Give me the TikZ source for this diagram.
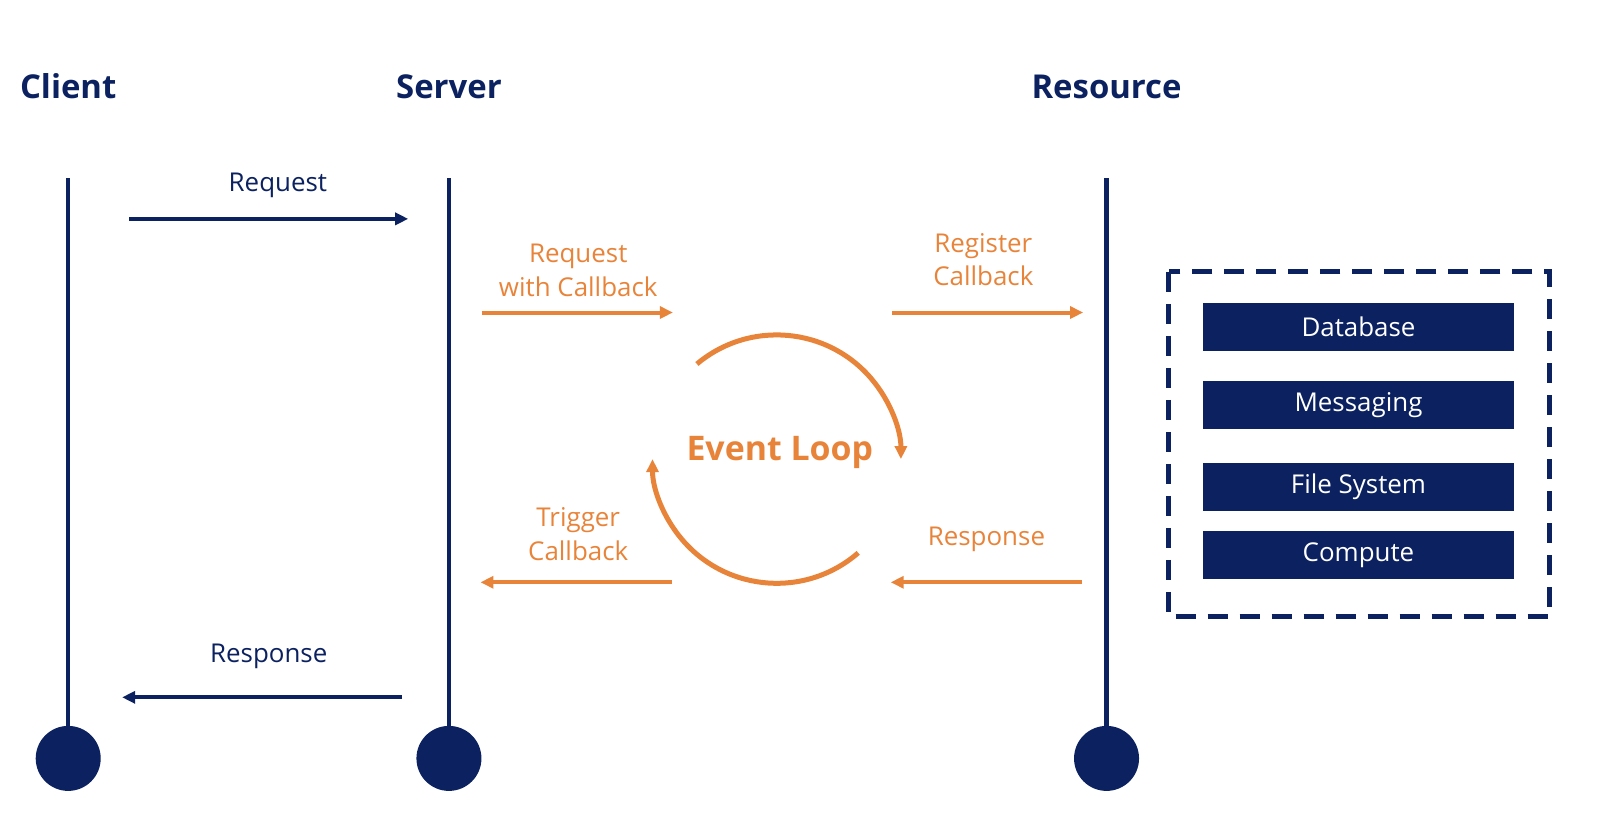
\documentclass[tikz,border=0pt]{standalone}
\usepackage{fontspec}
\setmainfont{Open Sans}
\usetikzlibrary{arrows.meta}
\definecolor{navy}{HTML}{0B2160}
\definecolor{org}{HTML}{E8843A}
\begin{document}
\begin{tikzpicture}[x=1.018bp,y=-1.018bp,
  title/.style={text=navy,font=\fontsize{33}{40}\selectfont\bfseries},
  lbl/.style={font=\fontsize{26}{34}\selectfont,align=center},
  life/.style={navy,line width=4.5bp},
  dot/.style={circle,fill=navy,minimum size=65bp,inner sep=0},
  narr/.style={navy,line width=4bp,-{Triangle[length=13bp,width=12bp]}},
  oarr/.style={org,line width=4bp,-{Triangle[length=13bp,width=12bp]}},
  res/.style={fill=navy,text=white,minimum width=311bp,minimum height=48bp,inner sep=0,font=\fontsize{26}{30}\selectfont}]
\useasboundingbox (0,0) rectangle (1568.8,814.3);
\node[title] (tc) at (67,85) {Client};
\node[title] (ts) at (441,85) {Server};
\node[title] (tr) at (1087,85) {Resource};
\foreach \n/\x in {c/67,s/441,r/1087}{
  \coordinate (top\n) at (\x,175);
  \node[dot] (d\n) at (\x,745) {};
  \draw[life] (top\n) -- (d\n);
}
\coordinate (a1) at (127,215); \coordinate (a2) at (401,215);
\draw[narr] (a1) -- (a2);
\node[lbl,text=navy] (l1) at (273,182) {Request};
\coordinate (b1) at (395,685); \coordinate (b2) at (120,685);
\draw[narr] (b1) -- (b2);
\node[lbl,text=navy] (l2) at (264,645) {Response};
\coordinate (c1) at (473,307); \coordinate (c2) at (661,307);
\draw[oarr] (c1) -- (c2);
\node[lbl,text=org] (l3) at (568,266) {Request\\with Callback};
\coordinate (e1) at (876,307); \coordinate (e2) at (1064,307);
\draw[oarr] (e1) -- (e2);
\node[lbl,text=org] (l4) at (966,255) {Register\\Callback};
\coordinate (f1) at (1063,572); \coordinate (f2) at (875,572);
\draw[oarr] (f1) -- (f2);
\node[lbl,text=org] (l5) at (969,530) {Response};
\coordinate (g1) at (660,572); \coordinate (g2) at (472,572);
\draw[oarr] (g1) -- (g2);
\node[lbl,text=org] (l6) at (568,525) {Trigger\\Callback};
\node[text=org,font=\fontsize{34}{40}\selectfont\bfseries] (ev) at (766,444) {Event Loop};
\coordinate (ec) at (763,451);
\draw[oarr,line width=5bp] ([shift={(-130:122)}]ec) arc[start angle=-130,end angle=0,radius=122];
\draw[oarr,line width=5bp] ([shift={(49:122)}]ec) arc[start angle=49,end angle=180,radius=122];
\draw[navy,line width=5bp,dash pattern=on 20bp off 12bp] (1148,267) rectangle (1522,606);
\node[res] (db) at (1334.5,321.5) {Database};
\node[res] (ms) at (1334.5,398) {Messaging};
\node[res] (fs) at (1334.5,478.5) {File System};
\node[res] (cp) at (1334.5,545.5) {Compute};
\end{tikzpicture}
\end{document}
